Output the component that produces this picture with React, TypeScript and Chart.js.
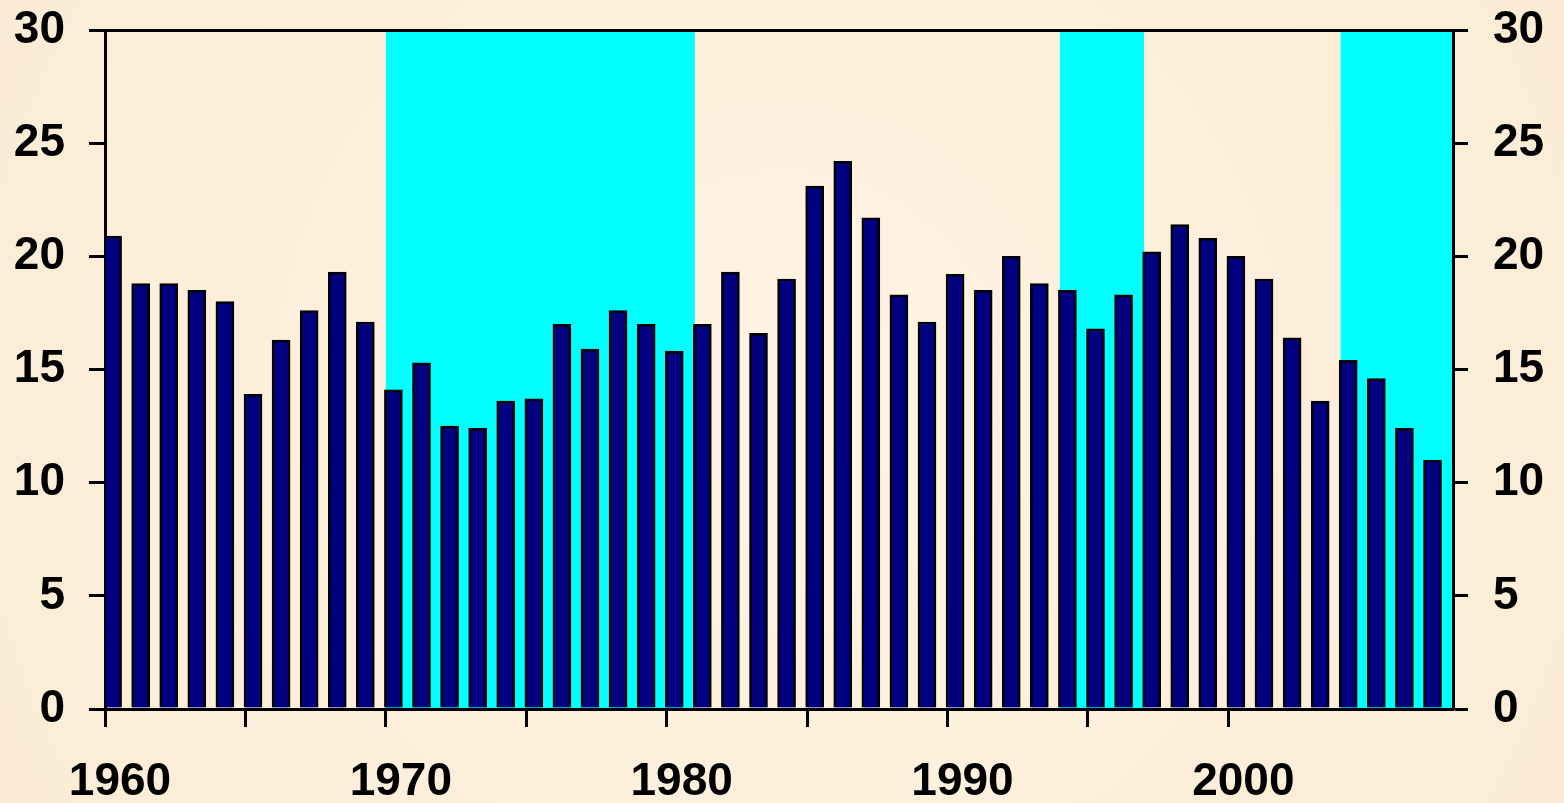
import React, { useEffect, useRef } from 'react';
import { Chart, registerables } from 'chart.js';

Chart.register(...registerables);

const years = [
  1960, 1961, 1962, 1963, 1964, 1965, 1966, 1967, 1968, 1969,
  1970, 1971, 1972, 1973, 1974, 1975, 1976, 1977, 1978, 1979,
  1980, 1981, 1982, 1983, 1984, 1985, 1986, 1987, 1988, 1989,
  1990, 1991, 1992, 1993, 1994, 1995, 1996, 1997, 1998, 1999,
  2000, 2001, 2002, 2003, 2004, 2005, 2006, 2007,
];

const values = [
  20.9, 18.8, 18.8, 18.5, 18.0, 13.9, 16.3, 17.6, 19.3, 17.1,
  14.1, 15.3, 12.5, 12.4, 13.6, 13.7, 17.0, 15.9, 17.6, 17.0,
  15.8, 17.0, 19.3, 16.6, 19.0, 23.1, 24.2, 21.7, 18.3, 17.1,
  19.2, 18.5, 20.0, 18.8, 18.5, 16.8, 18.3, 20.2, 21.4, 20.8,
  20.0, 19.0, 16.4, 13.6, 15.4, 14.6, 12.4, 11.0,
];

// shaded periods [start, end] in years
const shadedPeriods = [
  [1970, 1981],
  [1994, 1997],
  [2004, 2008],
];

const xMin = 1960;
const xMax = 2008;
const yMin = 0;
const yMax = 30;
const yStep = 5;
const xTickStep = 5;
const xLabelStep = 10;

const FONT = { family: '"Liberation Sans", Arial, sans-serif', size: 46, weight: 'bold' as const };

const backdrop = {
  id: 'backdrop',
  beforeDraw(chart: any) {
    const { ctx, width, height, chartArea, scales } = chart;
    ctx.save();
    const g = ctx.createRadialGradient(width * 0.5, height * 0.5, 40, width * 0.5, height * 0.5, width * 0.75);
    g.addColorStop(0, '#FEF3E2');
    g.addColorStop(1, '#FAE9D0');
    ctx.fillStyle = g;
    ctx.fillRect(0, 0, width, height);
    const x = scales.x;
    ctx.fillStyle = '#00FFFF';
    shadedPeriods.forEach(([a, b]) => {
      const x0 = x.getPixelForValue(a);
      const x1 = x.getPixelForValue(b);
      ctx.fillRect(x0, chartArea.top, x1 - x0, chartArea.bottom - chartArea.top);
    });
    ctx.restore();
  },
};

const fitVertical = (w: number) => (scale: any) => {
  scale.width = w;
  scale.paddingTop = 0;
  scale.paddingBottom = 0;
};

export default function App() {
  const ref = useRef<HTMLCanvasElement | null>(null);

  useEffect(() => {
    if (!ref.current) return;
    const barShift = 0.27;
    const chart = new Chart(ref.current, {
      type: 'bar',
      data: {
        datasets: [
          {
            data: years.map((y, i) => ({ x: y, y: values[i] })),
            backgroundColor: '#000080',
            borderColor: '#000000',
            borderWidth: 2.5,
            barThickness: 18,
            xAxisID: 'xb',
            yAxisID: 'y',
          },
        ],
      },
      options: {
        responsive: false,
        animation: false,
        devicePixelRatio: 1,
        layout: { padding: { top: 30, left: 0, right: 0, bottom: 0 } },
        plugins: { legend: { display: false }, tooltip: { enabled: false } },
        scales: {
          xb: {
            type: 'linear',
            display: false,
            offset: false,
            min: xMin - barShift,
            max: xMax - barShift,
          },
          x: {
            type: 'linear',
            position: 'bottom',
            offset: false,
            min: xMin,
            max: xMax,
            afterBuildTicks: (scale: any) => {
              scale.ticks = scale.ticks.filter((t: any) => t.value % xTickStep === 0 && t.value < xMax);
            },
            afterFit: (scale: any) => {
              scale.height = 94;
              scale.paddingLeft = 0;
              scale.paddingRight = 0;
            },
            border: { display: true, color: '#000', width: 3 },
            grid: {
              offset: false,
              drawOnChartArea: false,
              drawTicks: true,
              tickLength: 18,
              tickWidth: 3,
              tickColor: '#000',
            },
            ticks: {
              stepSize: xTickStep,
              autoSkip: false,
              maxRotation: 0,
              minRotation: 0,
              labelOffset: 15,
              padding: 28,
              color: '#000',
              font: FONT,
              callback: (v: any) => (Number(v) % xLabelStep === 0 ? String(v) : ''),
            },
          },
          y: {
            type: 'linear',
            position: 'left',
            min: yMin,
            max: yMax,
            afterFit: fitVertical(105),
            border: { display: true, color: '#000', width: 3 },
            grid: {
              drawOnChartArea: true,
              drawTicks: true,
              tickLength: 16,
              tickWidth: 3,
              tickColor: '#000',
              lineWidth: 3,
              color: (c: any) =>
                c.tick && (c.tick.value === yMin || c.tick.value === yMax) ? '#000' : 'rgba(0,0,0,0)',
            },
            ticks: { stepSize: yStep, padding: 24, color: '#000', font: FONT },
          },
          y2: {
            type: 'linear',
            position: 'right',
            min: yMin,
            max: yMax,
            afterFit: fitVertical(111),
            border: { display: true, color: '#000', width: 3 },
            grid: {
              drawOnChartArea: false,
              drawTicks: true,
              tickLength: 15,
              tickWidth: 3,
              tickColor: '#000',
            },
            ticks: { stepSize: yStep, padding: 25, color: '#000', font: FONT },
          },
        },
      },
      plugins: [backdrop],
    } as any);
    return () => chart.destroy();
  }, []);

  return (
    <div style={{ position: 'fixed', left: 0, top: 0, width: 1564, height: 803, margin: 0 }}>
      <canvas ref={ref} width={1564} height={803} style={{ display: 'block', width: 1564, height: 803 }} />
    </div>
  );
}
